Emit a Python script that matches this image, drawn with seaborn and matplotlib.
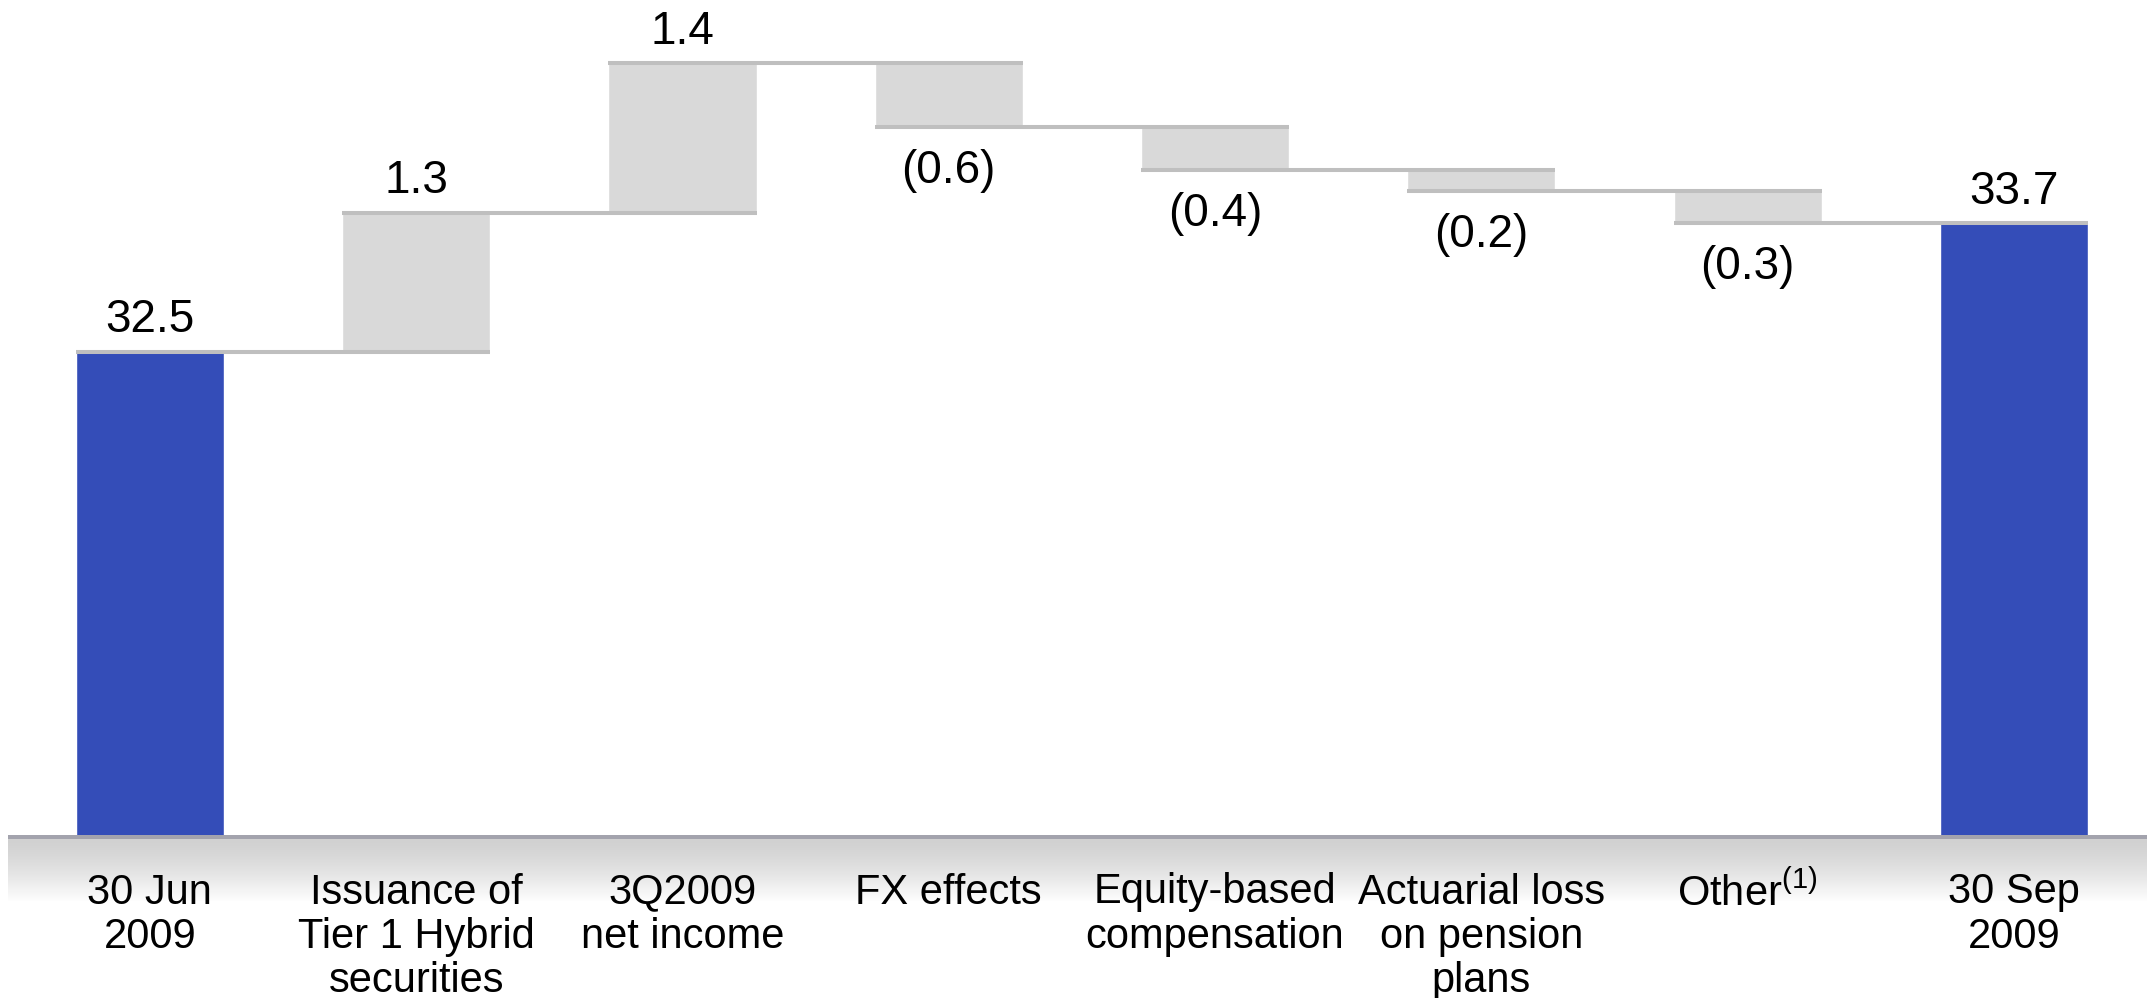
import numpy as np
import pandas as pd
import matplotlib
matplotlib.use("Agg")
import matplotlib.pyplot as plt
import seaborn as sns

# ---------------- data ----------------
categories = ["30 Jun\n2009", "Issuance of\nTier 1 Hybrid\nsecurities", "3Q2009\nnet income",
              "FX effects", "Equity-based\ncompensation", "Actuarial loss\non pension\nplans",
              "Other$^{(1)}$", "30 Sep\n2009"]
start_value = 32.5
end_value = 33.7
delta_values = [1.3, 1.4, -0.6, -0.4, -0.2, -0.3]
value_labels = ["32.5", "1.3", "1.4", "(0.6)", "(0.4)", "(0.2)", "(0.3)", "33.7"]

# ---------------- style ----------------
sns.set_theme(style="white")
plt.rcParams["font.family"] = ["Liberation Sans", "DejaVu Sans"]
plt.rcParams["mathtext.fontset"] = "custom"
plt.rcParams["mathtext.rm"] = "Liberation Sans"
plt.rcParams["mathtext.default"] = "regular"

BLUE = "#344db8"
GRAY_BAR = "#d9d9d9"
GRAY_LINE = "#bfbfbf"
W, H = 2150, 998
fig = plt.figure(figsize=(W / 100, H / 100), dpi=100)

# gradient band under the baseline
band = fig.add_axes([8 / W, (H - 902) / H, (2147 - 8) / W, (902 - 835) / H], zorder=0)
n = 67
col = np.ones((n, 1, 3))
t = np.linspace(0.0, 1.0, n - 4)
g = 0.82 + 0.18 * t ** 1.4
col[4:, 0, :] = g[:, None]
col[:4, 0, :] = np.array([0.643, 0.643, 0.682])
band.imshow(col, aspect="auto", extent=[0, 1, 0, 1], interpolation="nearest")
band.set_axis_off()

ax = fig.add_axes([0, (H - 835) / H, 1, 835 / H], zorder=1)
ax.patch.set_alpha(0)

# compute waterfall bottoms
levels = [start_value]
for d in delta_values:
    levels.append(levels[-1] + d)
bottoms = [min(levels[i], levels[i + 1]) for i in range(len(delta_values))]
heights = [abs(d) for d in delta_values]

tot_df = pd.DataFrame({"cat": [categories[0], categories[-1]], "val": [start_value, end_value]})
del_df = pd.DataFrame({"cat": categories[1:-1], "val": heights})

bw = 0.556
sns.barplot(data=tot_df, x="cat", y="val", order=categories, color=BLUE, width=bw,
            errorbar=None, saturation=1, ax=ax, zorder=2)
sns.barplot(data=del_df, x="cat", y="val", order=categories, color=GRAY_BAR, width=bw,
            errorbar=None, saturation=1, ax=ax, bottom=bottoms, zorder=2)

# connector lines
for i in range(len(categories) - 1):
    ax.hlines(levels[i], i - bw / 2, i + 1 + bw / 2, color=GRAY_LINE, lw=2.9, zorder=3)

# value labels
tops = [start_value] + [max(levels[i], levels[i + 1]) for i in range(len(delta_values))] + [end_value]
for i, lab in enumerate(value_labels):
    if i == 0 or i == len(categories) - 1 or delta_values[i - 1] > 0:
        ax.annotate(lab, (i, tops[i]), xytext=(0, 14), textcoords="offset points",
                    ha="center", va="baseline", fontsize=33, color="black")
    else:
        ax.annotate(lab, (i, bottoms[i - 1]), xytext=(0, -40), textcoords="offset points",
                    ha="center", va="baseline", fontsize=33, color="black")

ax.set_ylim(27.98, 35.79)
ax.set_xlim(-0.563, 7.511)
ax.set_xticks(range(len(categories)))
ax.set_xticklabels(categories, fontsize=30, linespacing=1.13, color="black")
ax.tick_params(axis="x", length=0, pad=27, labelcolor="black")
ax.set_yticks([])
ax.set_xlabel("")
ax.set_ylabel("")
for s in ax.spines.values():
    s.set_visible(False)

fig.savefig("out.png", dpi=100)
